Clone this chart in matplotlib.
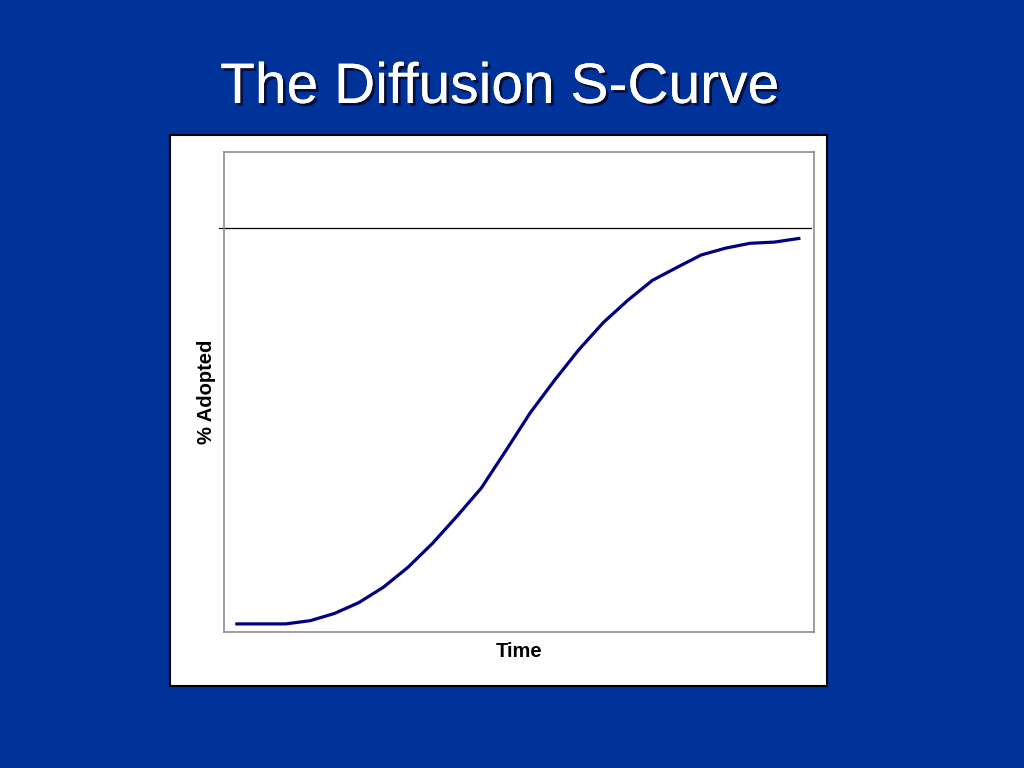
#!/usr/bin/env python3
"""The Diffusion S-Curve slide, redrawn with matplotlib."""

import matplotlib.pyplot as plt
import matplotlib.patheffects as pe
from matplotlib.patches import Rectangle

TITLE = "The Diffusion S-Curve"
X_LABEL = "Time"
Y_LABEL = "% Adopted"

# time periods (category axis) and cumulative share adopted, in % of saturation
periods = list(range(24))
adopted = [2.0, 2.0, 2.0, 2.8, 4.6, 7.3, 11.1, 16.0, 21.9, 28.6, 35.6, 44.8,
           54.2, 62.3, 69.9, 76.6, 82.1, 87.0, 90.2, 93.3, 95.0, 96.2, 96.5, 97.4]
saturation = 100.0

SLIDE_BLUE = "#003399"
CURVE_NAVY = "#000080"

plt.rcParams["font.family"] = ["Liberation Sans", "DejaVu Sans"]

fig = plt.figure(figsize=(10.24, 7.68), dpi=100)
fig.patch.set_facecolor(SLIDE_BLUE)

# white chart panel with thin black border, kept behind the axes
fig.patches.append(Rectangle((0.1660, 0.1068), 0.6416, 0.7174, transform=fig.transFigure,
                             facecolor="white", edgecolor="black", linewidth=1.5, zorder=-1))

fig.text(0.488, 0.866, TITLE, color="white", fontsize=41, ha="center", va="baseline",
         path_effects=[pe.withSimplePatchShadow(offset=(2, -2), shadow_rgbFace="#0a0a30", alpha=0.9),
                       pe.Normal()])

ax = fig.add_axes([0.2187, 0.1771, 0.5762, 0.6250])
ax.set_facecolor("white")
ax.plot(periods, adopted, color=CURVE_NAVY, linewidth=2.3, solid_joinstyle="miter")
ax.axhline(saturation, xmin=-0.008, xmax=0.995, color="black", linewidth=0.9, clip_on=False)

ax.set_xlim(-0.53, 23.62)
ax.set_ylim(0, 118.8)
ax.set_xticks([])
ax.set_yticks([])
for spine in ax.spines.values():
    spine.set_color("#8c8c8c")
    spine.set_linewidth(1.2)

ax.set_xlabel(X_LABEL, fontsize=14.5, fontweight="bold", labelpad=7)
ax.set_ylabel(Y_LABEL, fontsize=14.5, fontweight="bold", labelpad=6)

fig.savefig("out.png", dpi=100, facecolor=fig.get_facecolor())
